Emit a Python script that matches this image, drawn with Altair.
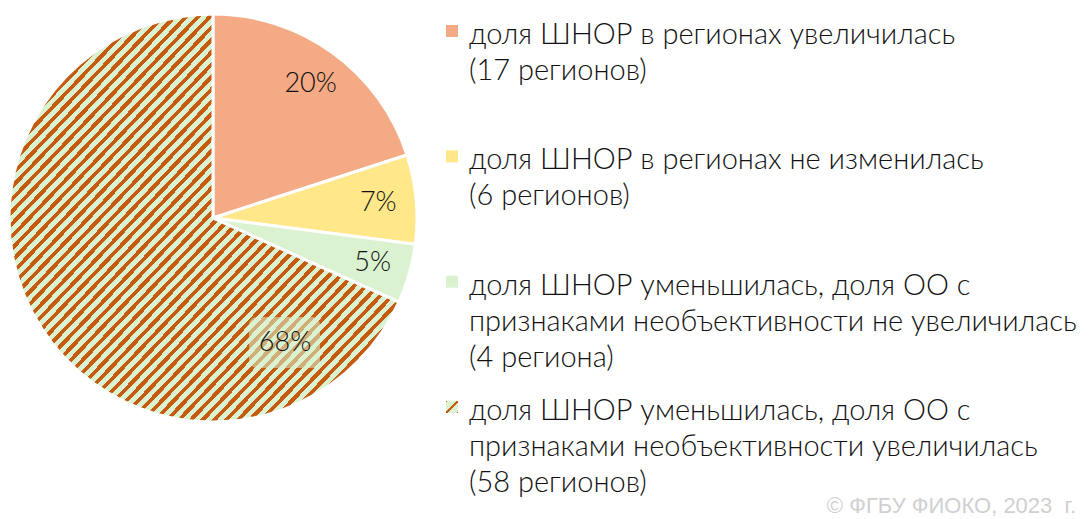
import altair as alt
import pandas as pd

# ---- data ----
categories = [
    "увеличилась",
    "не изменилась",
    "уменьшилась, ОО не увеличилась",
    "уменьшилась, ОО увеличилась",
]
counts = [17, 6, 4, 58]
legend_labels = [
    "доля ШНОР в регионах увеличилась\n(17 регионов)",
    "доля ШНОР в регионах не изменилась\n(6 регионов)",
    "доля ШНОР уменьшилась, доля ОО с\nпризнаками необъективности не увеличилась\n(4 региона)",
    "доля ШНОР уменьшилась, доля ОО с\nпризнаками необъективности увеличилась\n(58 регионов)",
]
watermark = "© ФГБУ ФИОКО, 2023 \u00a0г."

# ---- style ----
colors = ["#F4AA84", "#FFE78A", "#DAF2D0", "#DAF2D0"]
stripe_col = "#C55A11"
bg_col = "#DAF2D0"
FONT = "Lato"


def stripe_gradient(periods, frac, phase):
    stops = []
    for k in range(-1, periods + 1):
        s = (k + phase) / periods
        e = (k + phase + frac) / periods
        nxt = (k + 1 + phase) / periods
        for lo, hi, col in ((s, e, stripe_col), (e, nxt, bg_col)):
            lo2, hi2 = max(lo, 0.0), min(hi, 1.0)
            if hi2 > lo2:
                stops.append({"offset": round(lo2, 5), "color": col})
                stops.append({"offset": round(hi2, 5), "color": col})
    return {"gradient": "linear", "x1": 0, "y1": 0, "x2": 1, "y2": 1, "stops": stops}


big_grad = stripe_gradient(66, 0.45, 0.0)
swatch_grad = stripe_gradient(2, 0.32, -0.16)

df = pd.DataFrame({"idx": list(range(4)), "cat": categories, "n": counts, "label": legend_labels})
base = alt.Chart(df)

CX, CY, R = 205, 210, 204

fill_scale = alt.Scale(domain=categories, range=colors)

pie = base.mark_arc(radius=R, stroke="white", strokeWidth=3).encode(
    theta=alt.Theta("n:Q", stack=True),
    order=alt.Order("idx:Q"),
    fill=alt.condition("datum.idx == 3", alt.value(big_grad),
                       alt.Fill("cat:N", scale=fill_scale, legend=None)),
    x=alt.value(CX),
    y=alt.value(CY),
)

pct_base = base.transform_joinaggregate(total="sum(n)").transform_calculate(
    pct="format(datum.n / datum.total, '.0%')"
)

pct_text = pct_base.mark_text(
    radius=166, font=FONT, fontSize=27, fontWeight=300, color="#111111", baseline="middle"
).encode(
    theta=alt.Theta("n:Q", stack=True),
    order=alt.Order("idx:Q"),
    text=alt.condition("datum.idx == 3", alt.value(""), alt.Text("pct:N")),
    x=alt.value(CX),
    y=alt.value(CY),
)

box68 = base.transform_filter("datum.idx == 3").mark_rect(
    fill=bg_col, opacity=0.55, cornerRadius=8
).encode(x=alt.value(241), x2=alt.value(312), y=alt.value(309), y2=alt.value(360))

pct68 = pct_base.transform_filter("datum.idx == 3").mark_text(
    font=FONT, fontSize=27, fontWeight=300, color="#111111", baseline="middle"
).encode(text="pct:N", x=alt.value(277), y=alt.value(335))

yleg = alt.Y("idx:O", axis=None,
             scale=alt.Scale(type="point", range=[23, 399], padding=0))

squares = base.mark_square(size=144, opacity=1, strokeWidth=0).encode(
    x=alt.value(444),
    y=yleg,
    fill=alt.condition("datum.idx == 3", alt.value(swatch_grad),
                       alt.Fill("cat:N", scale=fill_scale, legend=None)),
)

leg_text = base.mark_text(
    align="left", baseline="alphabetic", dy=13, lineBreak="\n", lineHeight=36,
    font=FONT, fontSize=29, fontWeight=300, color="#111111",
).encode(x=alt.value(461), y=yleg, text="label:N")

wm = alt.Chart(pd.DataFrame({"t": [watermark]})).mark_text(
    align="right", baseline="alphabetic", font="Liberation Sans", fontSize=22, color="#D0D0D0"
).encode(text="t:N", x=alt.value(1068), y=alt.value(505))

chart = alt.layer(pie, pct_text, box68, pct68, squares, leg_text, wm).properties(
    width=1075, height=511, padding=0, autosize=alt.AutoSizeParams(type="none")
).configure_view(stroke=None)

chart.save("out.html", embed_options={"renderer": "svg", "actions": False})
